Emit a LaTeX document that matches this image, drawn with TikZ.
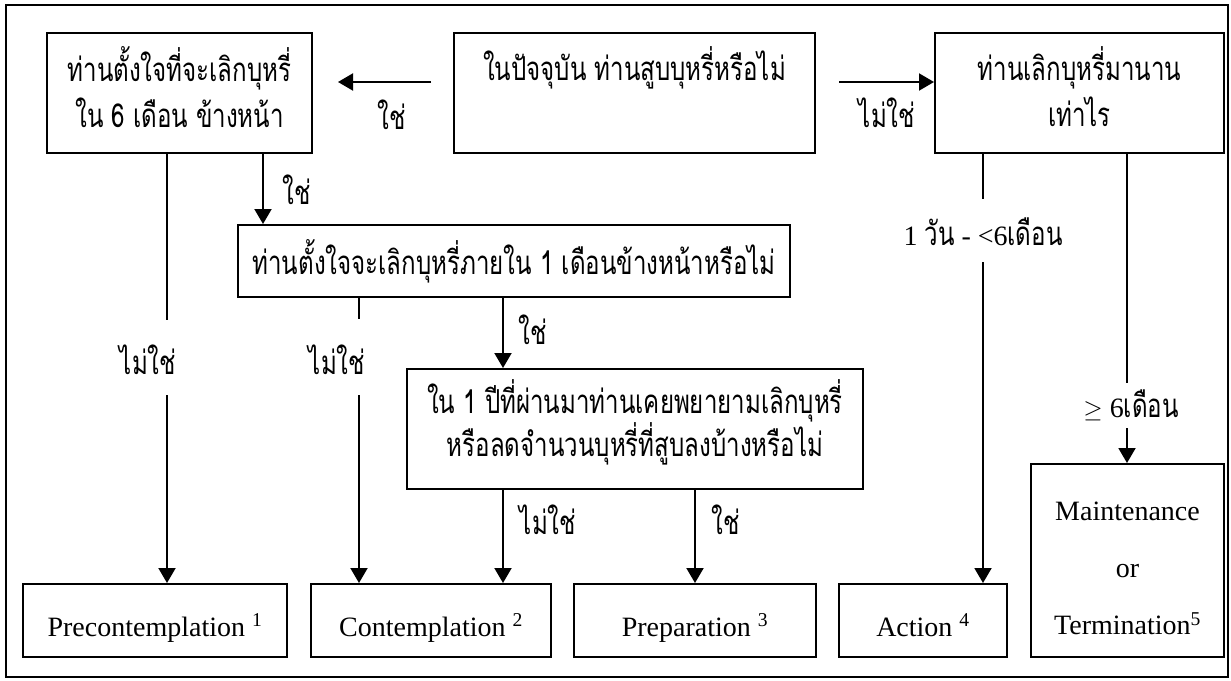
\documentclass[tikz,border=0pt]{standalone}
\usepackage{fontspec}
\setmainfont{Liberation Serif}
\newfontfamily\thai[Script=Thai,FakeStretch=0.73]{Loma}
\usetikzlibrary{arrows.meta}
\begin{document}
\begin{tikzpicture}[x=1pt,y=-1pt,
  ln/.style={line width=2pt},
  arr/.style={line width=2pt,-{Triangle[length=15pt,width=17pt]}},
  box/.style={draw,line width=2pt,inner sep=0pt,align=center},
  th/.style={font=\thai\fontsize{33}{46}\selectfont},
  lat/.style={font=\fontsize{28}{46}\selectfont,text height=31pt,text depth=0pt},
  lbl/.style={inner sep=0pt,font=\thai\fontsize{33}{36}\selectfont}]
\useasboundingbox (0,0) rectangle (1231,680);
\draw[line width=2pt] (6,5) rectangle (1228,677);
% boxes
\node[box,th,minimum width=265pt,minimum height=120pt] (A) at (179.5,93)
  {ท่านตั้งใจที่จะเลิกบุหรี่\\ใน 6 เดือน ข้างหน้า\rule[-12pt]{0pt}{12pt}};
\node[box,th,minimum width=361pt,minimum height=120pt] (B) at (634.5,93)
  {ในปัจจุบัน ท่านสูบบุหรี่หรือไม่\\\rule[-12pt]{0pt}{12pt}};
\node[box,th,minimum width=289pt,minimum height=120pt] (C) at (1079.5,93)
  {ท่านเลิกบุหรี่มานาน\\เท่าไร\rule[-12pt]{0pt}{12pt}};
\node[box,th,minimum width=552pt,minimum height=72pt] (D) at (514,261)
  {ท่านตั้งใจจะเลิกบุหรี่ภายใน 1 เดือนข้างหน้าหรือไม่};
\node[box,font=\thai\fontsize{33}{40}\selectfont,minimum width=456pt,minimum height=120pt] (E) at (635,429)
  {ใน 1 ปีที่ผ่านมาท่านเคยพยายามเลิกบุหรี่\\หรือลดจำนวนบุหรี่ที่สูบลงบ้างหรือไม่\rule[-22pt]{0pt}{22pt}};
\node[box,lat,minimum width=264pt,minimum height=73pt] (F) at (155,620.5)
  {Precontemplation \textsuperscript{1}};
\node[box,lat,minimum width=240pt,minimum height=73pt] (G) at (431,620.5)
  {Contemplation \textsuperscript{2}};
\node[box,lat,minimum width=242pt,minimum height=73pt] (H) at (695,620.5)
  {Preparation \textsuperscript{3}};
\node[box,lat,minimum width=168pt,minimum height=73pt] (I) at (923,620.5)
  {Action \textsuperscript{4}};
\node[box,font=\fontsize{28}{57}\selectfont,minimum width=193pt,minimum height=193pt] (J) at (1127.5,560.5)
  {\rule{0pt}{35pt}Maintenance\\or\\Termination\textsuperscript{5}};
% labels
\node[lbl] (lBA) at (392,115) {ใช่};
\node[lbl] (lBC) at (887,113) {ไม่ใช่};
\node[lbl] (lAD) at (297,190) {ใช่};
\node[lbl] (lAF) at (148,360) {ไม่ใช่};
\node[lbl] (lDG) at (337,360) {ไม่ใช่};
\node[lbl] (lDE) at (533,330) {ใช่};
\node[lbl] (lEG) at (548,520) {ไม่ใช่};
\node[lbl] (lEH) at (726,520) {ใช่};
\node[inner sep=0pt,font=\fontsize{28}{30}\selectfont] (lCI) at (983,232) {1 {\thai\fontsize{33}{36}\selectfont วัน} - <6{\thai\fontsize{33}{36}\selectfont เดือน}};
\node[inner sep=0pt,font=\fontsize{28}{30}\selectfont] (lCJ) at (1131,405) {$\geq$ 6{\thai\fontsize{33}{36}\selectfont เดือน}};
% gap coordinates
\coordinate (g1a) at (167,320); \coordinate (g1b) at (167,395);
\coordinate (g2a) at (359,319); \coordinate (g2b) at (359,395);
\coordinate (g3a) at (983,199); \coordinate (g3b) at (983,262);
\coordinate (g4a) at (1127,383); \coordinate (g4b) at (1127,428);
\coordinate (xAD) at (263,0); \coordinate (xDE) at (503,0); \coordinate (xEH) at (695,0);
% connectors
\draw[arr,shorten <=22pt,shorten >=25pt] ([yshift=11pt]B.west) -- ([yshift=11pt]A.east);
\draw[arr,shorten <=23pt] ([yshift=11pt]B.east) -- ([yshift=11pt]C.west);
\draw[arr] (A.south -| xAD) -- (D.north -| xAD);
\draw[ln] (A.south -| g1a) -- (g1a);
\draw[arr] (g1b) -- (F.north -| g1b);
\draw[ln] (D.south -| g2a) -- (g2a);
\draw[arr] (g2b) -- (G.north -| g2b);
\draw[arr] (D.south -| xDE) -- (E.north -| xDE);
\draw[arr] (E.south -| xDE) -- (G.north -| xDE);
\draw[arr] (E.south -| xEH) -- (H.north -| xEH);
\draw[ln] (C.south -| g3a) -- (g3a);
\draw[arr] (g3b) -- (I.north -| g3b);
\draw[ln] (C.south -| g4a) -- (g4a);
\draw[arr] (g4b) -- (J.north -| g4b);
\end{tikzpicture}
\end{document}
